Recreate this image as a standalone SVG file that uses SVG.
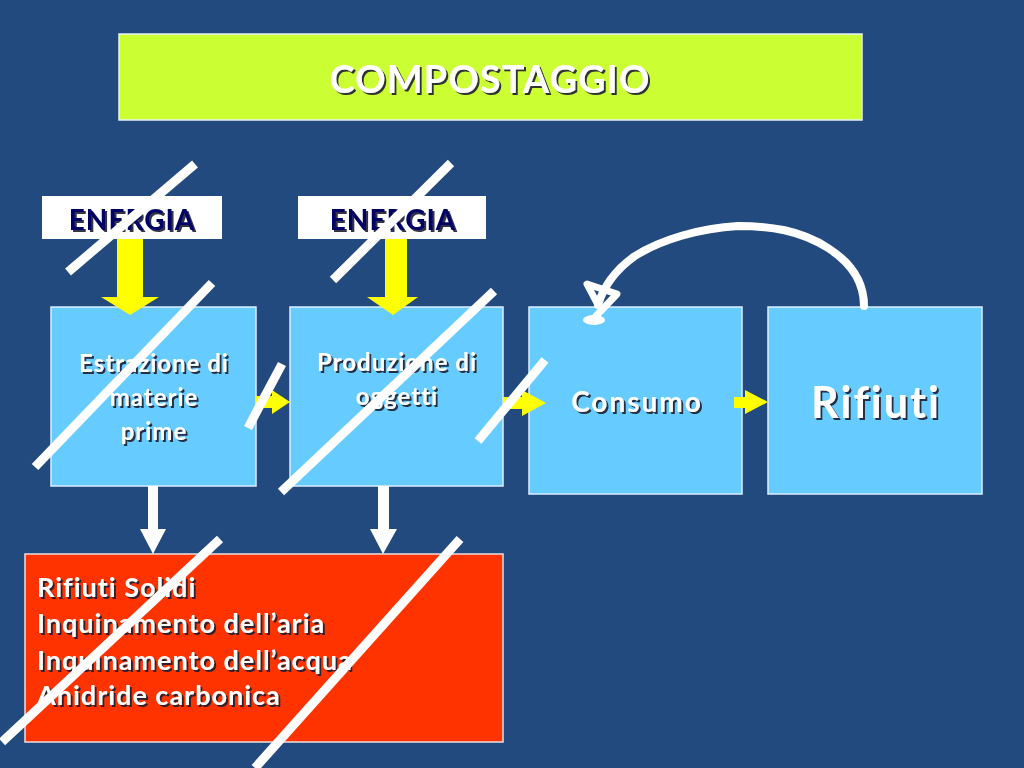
<svg xmlns="http://www.w3.org/2000/svg" width="1024" height="768" viewBox="0 0 1024 768">
<defs>
<style>
.t{font-family:Lato,"Open Sans","Liberation Sans",sans-serif;font-weight:bold;fill:#fff;filter:url(#sh);font-variant-ligatures:none}
.e{font-family:Lato,"Open Sans","Liberation Sans",sans-serif;font-weight:bold;fill:#000066;font-size:28px;letter-spacing:1px;filter:url(#sh)}
.box{fill:#66CCFF;stroke:#DDEEFF;stroke-width:1.5}
.slash{stroke:#fff;stroke-width:9;stroke-linecap:butt;fill:none}
.ya{fill:#FFFF00}
.wa{fill:#fff}
</style>
<filter id="sh" x="-10%" y="-20%" width="130%" height="150%">
<feDropShadow dx="2" dy="2" stdDeviation="0.7" flood-color="#1a1a33" flood-opacity="0.9"/>
</filter>
</defs>
<rect width="1024" height="768" fill="#224A7E"/>

<g id="title">
<rect x="119" y="34" width="743" height="86" fill="#CCFF33" stroke="#E8F0F8" stroke-width="1.5"/>
<text class="t" x="490" y="93" font-size="38" letter-spacing="1" text-anchor="middle">COMPOSTAGGIO</text>
</g>

<g id="energia1">
<rect x="42" y="196" width="180" height="43" fill="#fff"/>
<text class="e" x="132" y="230" text-anchor="middle">ENERGIA</text>
</g>
<g id="energia2">
<rect x="298" y="196" width="188" height="43" fill="#fff"/>
<text class="e" x="393" y="230" text-anchor="middle">ENERGIA</text>
</g>

<g id="estrazione">
<rect class="box" x="51" y="307" width="205" height="179"/>
<text class="t" x="154" y="372" font-size="24" letter-spacing="1" text-anchor="middle">Estrazione di</text>
<text class="t" x="154" y="406" font-size="24" letter-spacing="1" text-anchor="middle">materie</text>
<text class="t" x="154" y="440" font-size="24" letter-spacing="1" text-anchor="middle">prime</text>
</g>
<g id="produzione">
<rect class="box" x="290" y="307" width="213" height="179"/>
<text class="t" x="397" y="371" font-size="24" letter-spacing="1" text-anchor="middle">Produzione di</text>
<text class="t" x="397" y="405" font-size="24" letter-spacing="1" text-anchor="middle">oggetti</text>
</g>
<g id="consumo">
<rect class="box" x="529" y="307" width="213" height="187"/>
<text class="t" x="637" y="412" font-size="28" letter-spacing="2" text-anchor="middle">Consumo</text>
</g>
<g id="rifiuti">
<rect class="box" x="768" y="307" width="214" height="187"/>
<text class="t" x="876" y="418" font-size="43" letter-spacing="2" text-anchor="middle">Rifiuti</text>
</g>

<g id="impatti">
<rect x="25" y="554" width="478" height="188" fill="#FF3300" stroke="#F0E0E0" stroke-width="1.5"/>
<text class="t" x="37" y="597" font-size="27" letter-spacing="1">Rifiuti Solidi</text>
<text class="t" x="37" y="633" font-size="27" letter-spacing="1">Inquinamento dell’aria</text>
<text class="t" x="37" y="670" font-size="27" letter-spacing="1">Inquinamento dell’acqua</text>
<text class="t" x="37" y="705" font-size="27" letter-spacing="1">Anidride carbonica</text>
</g>

<g id="connectors">
<polygon class="ya" points="117,239 143,239 143,297 159,297 130,315 101,297 117,297"/>
<polygon class="ya" points="385,239 407,239 407,297 418,297 393,315 367,297 385,297"/>
<polygon class="ya" points="256,396 272,396 272,390 290,402 272,414 272,408 256,408"/>
<polygon class="ya" points="503,397 522,397 522,390 546,403 522,416 522,409 503,409"/>
<polygon class="ya" points="734,397 745,397 745,390 768,402 745,414 745,408 734,408"/>
<polygon class="wa" points="148,486 158,486 158,529 166,529 153,554 140,529 148,529"/>
<polygon class="wa" points="378,486 389,486 389,529 397,529 383,554 370,529 378,529"/>
<path d="M864,306 C864,280 850,262 828,248 C800,230 770,226 738,226 C700,228 660,240 635,256 C615,270 604,285 598,305" stroke="#fff" stroke-width="8" fill="none" stroke-linecap="round"/>
<path d="M598,305 L587,284 L617,294 L596,316" stroke="#fff" stroke-width="7" fill="none" stroke-linejoin="round" stroke-linecap="round"/>
<ellipse cx="594" cy="320" rx="11" ry="5" fill="#fff"/>
</g>

<g id="strikes">
<line class="slash" x1="195" y1="164" x2="68" y2="272"/>
<line class="slash" x1="212" y1="283" x2="35" y2="467"/>
<line class="slash" x1="282" y1="364" x2="248" y2="428"/>
<line class="slash" x1="451" y1="163" x2="333" y2="280"/>
<line class="slash" x1="494" y1="291" x2="281" y2="492"/>
<line class="slash" x1="545" y1="360" x2="478" y2="441"/>
<line class="slash" x1="220" y1="539" x2="2" y2="742"/>
<line class="slash" x1="460" y1="539" x2="255" y2="768"/>
</g>
</svg>
